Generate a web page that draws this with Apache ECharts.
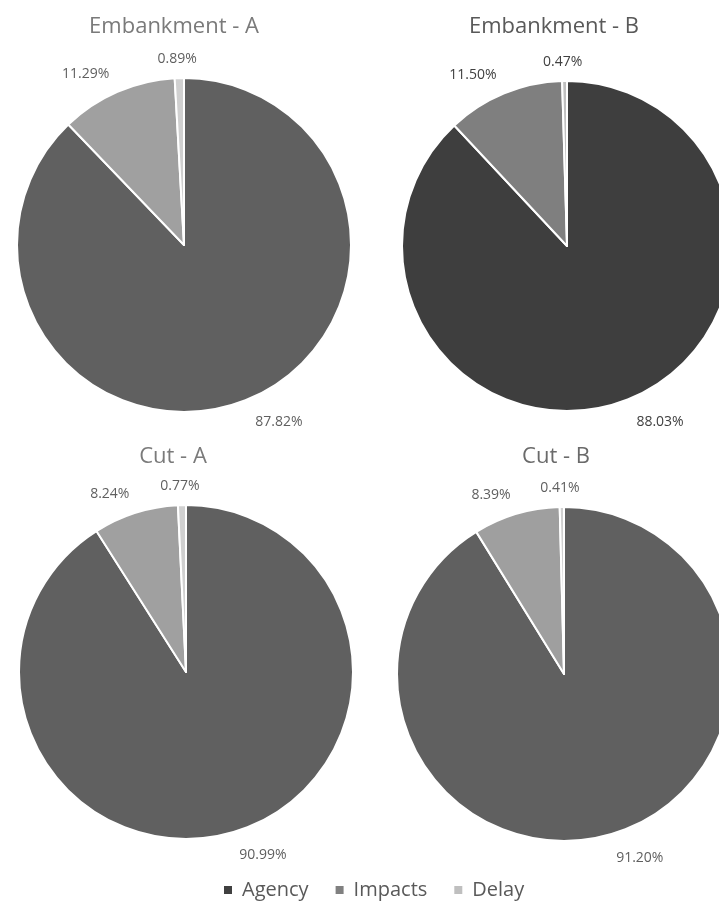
<!DOCTYPE html>
<html>
<head>
<meta charset="utf-8">
<script src="https://cdn.jsdelivr.net/npm/echarts@6/dist/echarts.min.js"></script>
<style>
  html, body { margin: 0; padding: 0; background: #ffffff; }
  #chart { width: 719px; height: 903px; }
</style>
</head>
<body>
<div id="chart"></div>
<script>
// Cost components shared by every pie
const categories = ['Agency', 'Impacts', 'Delay'];

// Chart titles
const titles = ['Embankment - A', 'Embankment - B', 'Cut - A', 'Cut - B'];

// Share of total cost (%) per component, in category order
const embankmentA = [87.82, 11.29, 0.89];
const embankmentB = [88.03, 11.50, 0.47];
const cutA = [90.99, 8.24, 0.77];
const cutB = [91.20, 8.39, 0.41];

const seriesValues = [embankmentA, embankmentB, cutA, cutB];

// Layout and styling of each pie panel
const panels = [
  { center: [184, 245], radius: 167, titleX: 169, titleY: 11, titleColor: '#7a7a7a', labelColor: '#5f5f5f',
    colors: ['#606060', '#a0a0a0', '#d0d0d0'] },
  { center: [567, 246], radius: 165, titleX: 549, titleY: 11, titleColor: '#595959', labelColor: '#404040',
    colors: ['#3e3e3e', '#7f7f7f', '#c0c0c0'] },
  { center: [186, 672], radius: 167, titleX: 168, titleY: 441, titleColor: '#7a7a7a', labelColor: '#5f5f5f',
    colors: ['#606060', '#a0a0a0', '#d0d0d0'] },
  { center: [564, 674], radius: 167, titleX: 551, titleY: 441, titleColor: '#6a6a6a', labelColor: '#5f5f5f',
    colors: ['#606060', '#9f9f9f', '#d0d0d0'] }
];

// Label offsets per component: radial gap beyond the rim and horizontal shift
// (the thin top slice gets its label pulled back so it sits centred above it)
const labelGap = [24, 20, 19];
const labelShift = [0, 0, -18];

const legendColors = ['#404040', '#808080', '#bfbfbf'];
const FONT = '"Open Sans", "Noto Sans", sans-serif';

const chart = echarts.init(document.getElementById('chart'), null, { renderer: 'canvas' });

const option = {
  backgroundColor: '#ffffff',
  animation: false,
  textStyle: { fontFamily: FONT },
  title: titles.map((t, i) => ({
    text: t,
    left: panels[i].titleX,
    top: panels[i].titleY,
    textAlign: 'center',
    textStyle: { fontFamily: FONT, fontSize: 22, fontWeight: 'normal', color: panels[i].titleColor }
  })),
  legend: {
    left: 217,
    top: 875,
    itemWidth: 18,
    itemHeight: 10,
    itemGap: 25,
    icon: 'path://M0,0H10V10H0Z',
    textStyle: { fontFamily: FONT, fontSize: 20, color: '#595959' },
    data: categories.map((c, i) => ({ name: c, itemStyle: { color: legendColors[i] } }))
  },
  series: seriesValues.map((vals, si) => ({
    type: 'pie',
    center: panels[si].center,
    radius: [0, panels[si].radius],
    startAngle: 90,
    clockwise: true,
    silent: true,
    avoidLabelOverlap: false,
    itemStyle: { borderColor: '#ffffff', borderWidth: 2 },
    label: {
      show: true,
      position: 'outside',
      alignTo: 'none',
      distanceToLabelLine: 0,
      formatter: (p) => p.value.toFixed(2) + '%',
      fontFamily: FONT,
      fontSize: 14,
      color: panels[si].labelColor
    },
    labelLine: { show: false },
    emphasis: { disabled: true },
    data: categories.map((c, i) => ({
      name: c,
      value: vals[i],
      itemStyle: { color: panels[si].colors[i] },
      labelLine: { show: false, length: labelGap[i], length2: labelShift[i] }
    }))
  }))
};

chart.setOption(option);
</script>
</body>
</html>
